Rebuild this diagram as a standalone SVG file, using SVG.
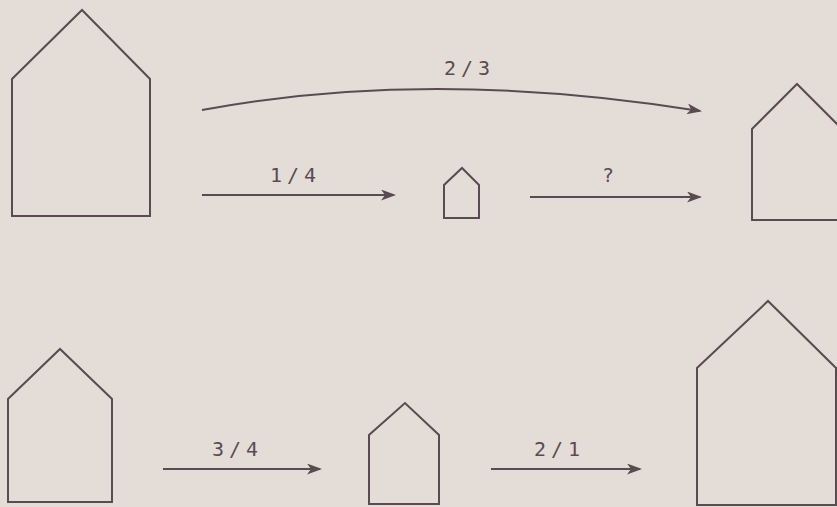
<svg xmlns="http://www.w3.org/2000/svg" width="837" height="507" viewBox="0 0 837 507">
<style>
.h{fill:none;stroke:#5a4b52;stroke-width:2;stroke-linejoin:miter}
.c{fill:none;stroke:#5a4b52;stroke-width:2;marker-end:url(#ah)}
.t{font-family:"DejaVu Sans Mono","Liberation Mono",monospace;font-size:20px;fill:#5a4b52}
</style>
<defs>
<marker id="ah" viewBox="0 0 15 11" refX="13" refY="5.5" markerWidth="15" markerHeight="11" markerUnits="userSpaceOnUse" orient="auto">
<path d="M0,0 L15,5.5 L0,11 L4,5.5 z" fill="#5a4b52"/>
</marker>
</defs>
<rect width="837" height="507" fill="#e4ddd7"/>
<g id="house-a"><path class="h" d="M12,216 L12,79 L82,10 L150,79 L150,216 Z"/></g>
<g id="house-b"><path class="h" d="M444,218 L444,185 L462,168 L479,185 L479,218 Z"/></g>
<g id="house-c"><path class="h" d="M752,220 L752,129 L797,84 L842,129 L842,220 Z"/></g>
<g id="house-d"><path class="h" d="M8,502 L8,399 L60,349 L112,399 L112,502 Z"/></g>
<g id="house-e"><path class="h" d="M369,504 L369,435 L405,403 L439,435 L439,504 Z"/></g>
<g id="house-f"><path class="h" d="M697,505 L697,368 L768,301 L836,368 L836,505 Z"/></g>
<g id="connectors">
<path class="c" d="M202,110 Q429,67.5 700,111"/>
<path class="c" d="M202,195 L394,195"/>
<path class="c" d="M530,197 L700,197"/>
<path class="c" d="M163,469 L320,469"/>
<path class="c" d="M491,469 L640,469"/>
</g>
<g id="labels">
<text class="t" x="444" y="75" textLength="46" lengthAdjust="spacing">2/3</text>
<text class="t" x="270" y="182" textLength="46" lengthAdjust="spacing">1/4</text>
<text class="t" x="602" y="182">?</text>
<text class="t" x="212" y="456" textLength="46" lengthAdjust="spacing">3/4</text>
<text class="t" x="534" y="456" textLength="46" lengthAdjust="spacing">2/1</text>
</g>
</svg>
